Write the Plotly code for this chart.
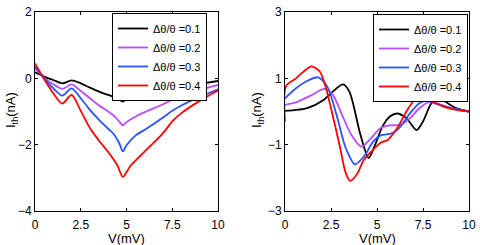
import plotly.graph_objects as go

labels = ["Δθ/θ =0.1", "Δθ/θ =0.2", "Δθ/θ =0.3", "Δθ/θ =0.4"]
colors = ["#000000", "#b84cff", "#2a52ff", "#ff0000"]

# Left panel
left_x = [
    [0, 0.5, 1, 1.5, 2, 2.5, 3, 3.5, 4, 4.5, 4.8, 5, 5.5, 6, 7, 8, 9, 10],
    [0, 0.5, 1, 1.5, 2, 2.5, 3, 3.5, 4, 4.3, 4.6, 4.8, 5, 5.5, 6, 7, 7.5, 8, 9, 10],
    [0, 0.5, 1, 1.5, 2, 2.5, 3, 3.5, 4, 4.3, 4.6, 4.8, 5, 5.5, 6, 7, 7.5, 8, 9, 10],
    [0, 0.5, 1, 1.5, 2, 2.5, 3, 3.5, 4, 4.5, 4.8, 5.2, 5.6, 6, 7, 7.5, 8, 9, 10],
]
left_y = [
    [0.18, 0.05, -0.05, -0.15, -0.06, -0.15, -0.28, -0.4, -0.5, -0.6, -0.7, -0.63, -0.56, -0.5, -0.38, -0.26, -0.17, -0.08],
    [0.3, 0.02, -0.18, -0.32, -0.18, -0.38, -0.6, -0.82, -1.0, -1.12, -1.3, -1.42, -1.32, -1.15, -1.02, -0.78, -0.65, -0.53, -0.35, -0.2],
    [0.36, 0.0, -0.3, -0.52, -0.3, -0.6, -0.95, -1.25, -1.52, -1.68, -1.95, -2.2, -2.02, -1.72, -1.55, -1.18, -0.98, -0.82, -0.56, -0.33],
    [0.45, -0.02, -0.45, -0.76, -0.5, -0.98, -1.5, -1.88, -2.22, -2.62, -2.97, -2.65, -2.42, -2.2, -1.65, -1.3, -1.05, -0.68, -0.37],
]

# Right panel
right_x = [
    [0, 0.5, 1.2, 2.1, 2.6, 3.15, 3.5, 4.1, 4.55, 4.9, 5.3, 5.7, 6.1, 6.6, 7.15, 7.5, 7.9, 8.25, 8.7, 9.3, 10],
    [0, 0.7, 1.4, 2.15, 2.6, 3.1, 3.6, 4.15, 4.6, 5.2, 5.7, 6.3, 6.8, 7.3, 7.9, 8.5, 9.2, 10],
    [0, 0.6, 1.2, 1.8, 2.3, 2.8, 3.3, 3.8, 4.3, 4.8, 5.2, 5.8, 6.2, 6.8, 7.3, 7.7, 8.3, 9, 10],
    [0, 0.05, 0.6, 1.0, 1.45, 1.9, 2.2, 2.5, 3.0, 3.3, 3.55, 3.9, 4.3, 4.8, 5.2, 5.6, 6.1, 6.6, 7.0, 7.45, 8.0, 8.6, 9.3, 10],
]
right_y = [
    [0.02, 0.04, 0.1, 0.35, 0.6, 0.82, 0.6, -0.7, -1.4, -1.0, -0.45, -0.15, -0.06, -0.2, -0.56, -0.3, 0.2, 0.43, 0.3, 0.1, 0.0],
    [0.2, 0.3, 0.48, 0.68, 0.5, -0.1, -0.7, -1.06, -0.85, -0.5, -0.42, -0.4, -0.2, 0.1, 0.3, 0.2, 0.08, 0.0],
    [0.4, 0.7, 0.92, 1.03, 0.75, -0.1, -1.1, -1.59, -1.35, -0.9, -0.72, -0.66, -0.5, -0.05, 0.25, 0.32, 0.22, 0.1, 0.0],
    [-0.3, 0.76, 1.0, 1.2, 1.36, 1.2, 0.76, 0.1, -1.1, -1.85, -2.09, -1.9, -1.45, -1.15, -0.94, -0.85, -0.5, 0.0, 0.32, 0.45, 0.3, 0.15, 0.05, 0.0],
]

x_ticks = [0, 2.5, 5, 7.5, 10]
x_ticklabels = ["0", "2.5", "5", "7.5", "10"]
left_yticks = [-4, -2, 0, 2]
right_yticks = [-3, -1, 1, 3]

fig = go.Figure()
for i in range(4):
    fig.add_trace(go.Scatter(x=left_x[i], y=left_y[i], mode="lines", name=labels[i],
                             line=dict(color=colors[i], width=1.8, shape="spline", smoothing=0.8),
                             xaxis="x", yaxis="y", legend="legend"))
for i in range(4):
    fig.add_trace(go.Scatter(x=right_x[i], y=right_y[i], mode="lines", name=labels[i],
                             line=dict(color=colors[i], width=1.8, shape="spline", smoothing=0.8),
                             xaxis="x2", yaxis="y2", legend="legend2"))

font = dict(family="Liberation Sans, Arial, sans-serif", size=12, color="black")
legfont = dict(family="Liberation Sans, Arial, sans-serif", size=11, color="black")
axcommon = dict(showline=True, mirror="ticks", linecolor="black", linewidth=1, ticks="inside",
                ticklen=3, tickcolor="black", showgrid=False, zeroline=False, tickfont=font,
                automargin=False)
ydom = [1 - 211 / 245, 1 - 12 / 245]
fig.update_layout(
    template="none",
    width=480, height=245, margin=dict(l=0, r=0, t=0, b=0, pad=0),
    paper_bgcolor="white", plot_bgcolor="white", font=font,
    xaxis=dict(domain=[35 / 480, 218 / 480], range=[0, 10], tickvals=x_ticks, ticktext=x_ticklabels,
               anchor="y", ticklabelstandoff=3, **axcommon),
    yaxis=dict(domain=ydom, range=[-4, 2], tickvals=left_yticks, anchor="x", **axcommon),
    xaxis2=dict(domain=[285 / 480, 469 / 480], range=[0, 10], tickvals=x_ticks, ticktext=x_ticklabels,
                anchor="y2", ticklabelstandoff=3, **axcommon),
    yaxis2=dict(domain=ydom, range=[-3, 3], tickvals=right_yticks, anchor="x2", **axcommon),
    legend=dict(x=207 / 480, y=1 - 13 / 245, xanchor="right", yanchor="top", bgcolor="white",
                bordercolor="black", borderwidth=1, itemwidth=30, font=legfont, tracegroupgap=0),
    legend2=dict(x=468 / 480, y=1 - 14 / 245, xanchor="right", yanchor="top", bgcolor="white",
                 bordercolor="black", borderwidth=1, itemwidth=30, font=legfont, tracegroupgap=0),
    showlegend=True,
)
title_font = dict(family="Liberation Sans, Arial, sans-serif", size=13, color="black")
for xc in [(35 + 218) / 2 / 480, (285 + 469) / 2 / 480]:
    fig.add_annotation(text="V(mV)", x=xc, y=1 - 238.5 / 245, xref="paper", yref="paper",
                       showarrow=False, font=title_font, xanchor="center", yanchor="middle", borderpad=0)
for xc in [11 / 480, 257 / 480]:
    fig.add_annotation(text="I<sub>th</sub>(nA)", x=xc, y=1 - 110 / 245, xref="paper", yref="paper",
                       showarrow=False, font=title_font, textangle=-90, xanchor="center", yanchor="middle")

fig.write_html("out.html", config={"displayModeBar": False},
               post_script="document.body.style.margin='0';")
